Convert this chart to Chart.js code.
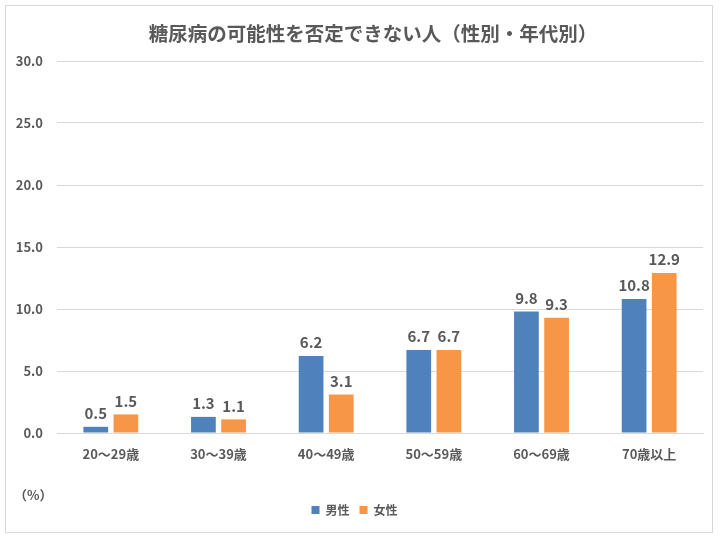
<!DOCTYPE html>
<html>
<head>
<meta charset="utf-8">
<script src="https://cdn.jsdelivr.net/npm/chart.js@4"></script>
<style>
    body { margin: 0; background: #fff; }
    #box { position: absolute; left: 5px; top: 5px; width: 706px; height: 526px; border: 1px solid #D9D9D9; }
</style>
</head>
<body>
<div id="box"><canvas id="diabetesChart" width="706" height="526"></canvas></div>
<script>
const chartTitle = '糖尿病の可能性を否定できない人（性別・年代別）';
const categories = ['20～29歳', '30～39歳', '40～49歳', '50～59歳', '60～69歳', '70歳以上'];
const maleValues = [0.5, 1.3, 6.2, 6.7, 9.8, 10.8];
const femaleValues = [1.5, 1.1, 3.1, 6.7, 9.3, 12.9];
const yTicks = [0, 5, 10, 15, 20, 25, 30];

const FONT = '"Noto Sans CJK JP", "Noto Sans", sans-serif';
const TEXT = '#595959';

// title (sits a bit right of centre, like the Excel original), value labels, (%) note
const barLabels = {
    id: 'barLabels',
    afterDatasetsDraw(chart) {
        const ctx = chart.ctx;
        ctx.save();
        ctx.fillStyle = TEXT;
        ctx.textAlign = 'center';
        ctx.textBaseline = 'middle';
        ctx.font = 'bold 19.5px ' + FONT;
        ctx.fillText(chartTitle, 367, 28);

        ctx.font = 'bold 15px ' + FONT;
        ctx.textBaseline = 'bottom';
        chart.data.datasets.forEach((ds, i) => {
            chart.getDatasetMeta(i).data.forEach((bar, j) => {
                ctx.fillText(ds.data[j].toFixed(1), bar.x, bar.y - 6);
            });
        });
        ctx.font = 'bold 13px ' + FONT;
        ctx.textAlign = 'left';
        ctx.textBaseline = 'middle';
        ctx.fillText('（%）', 8, 489);
        ctx.restore();
    }
};

const ctx = document.getElementById('diabetesChart').getContext('2d');
new Chart(ctx, {
    type: 'bar',
    data: {
        labels: categories,
        datasets: [{
            label: '男性',
            data: maleValues,
            backgroundColor: '#4F81BD'
        }, {
            label: '女性',
            data: femaleValues,
            backgroundColor: '#F79646'
        }]
    },
    options: {
        responsive: false,
        animation: false,
        devicePixelRatio: 1,
        categoryPercentage: 0.56,
        barPercentage: 0.82,
        layout: { padding: { top: 55, right: 9, bottom: 6, left: 0 } },
        plugins: {
            title: { display: false },
            legend: {
                position: 'bottom',
                labels: {
                    color: TEXT,
                    font: { family: FONT, size: 12, weight: 'bold' },
                    boxWidth: 8,
                    boxHeight: 8,
                    padding: 10
                }
            },
            tooltip: { enabled: false }
        },
        scales: {
            x: {
                grid: { display: false },
                border: { color: '#D9D9D9' },
                ticks: { color: TEXT, font: { family: FONT, size: 13, weight: 'bold' }, padding: 5 },
                afterFit(scale) { scale.height = 61; }
            },
            y: {
                min: 0,
                max: 30,
                afterBuildTicks(scale) { scale.ticks = yTicks.map(v => ({ value: v })); },
                grid: { color: '#D9D9D9', drawTicks: false },
                border: { display: false },
                ticks: {
                    color: TEXT,
                    font: { family: FONT, size: 13, weight: 'bold' },
                    padding: 14,
                    callback: v => v.toFixed(1)
                },
                afterFit(scale) { scale.width = 51; }
            }
        }
    },
    plugins: [barLabels]
});
</script>
</body>
</html>
